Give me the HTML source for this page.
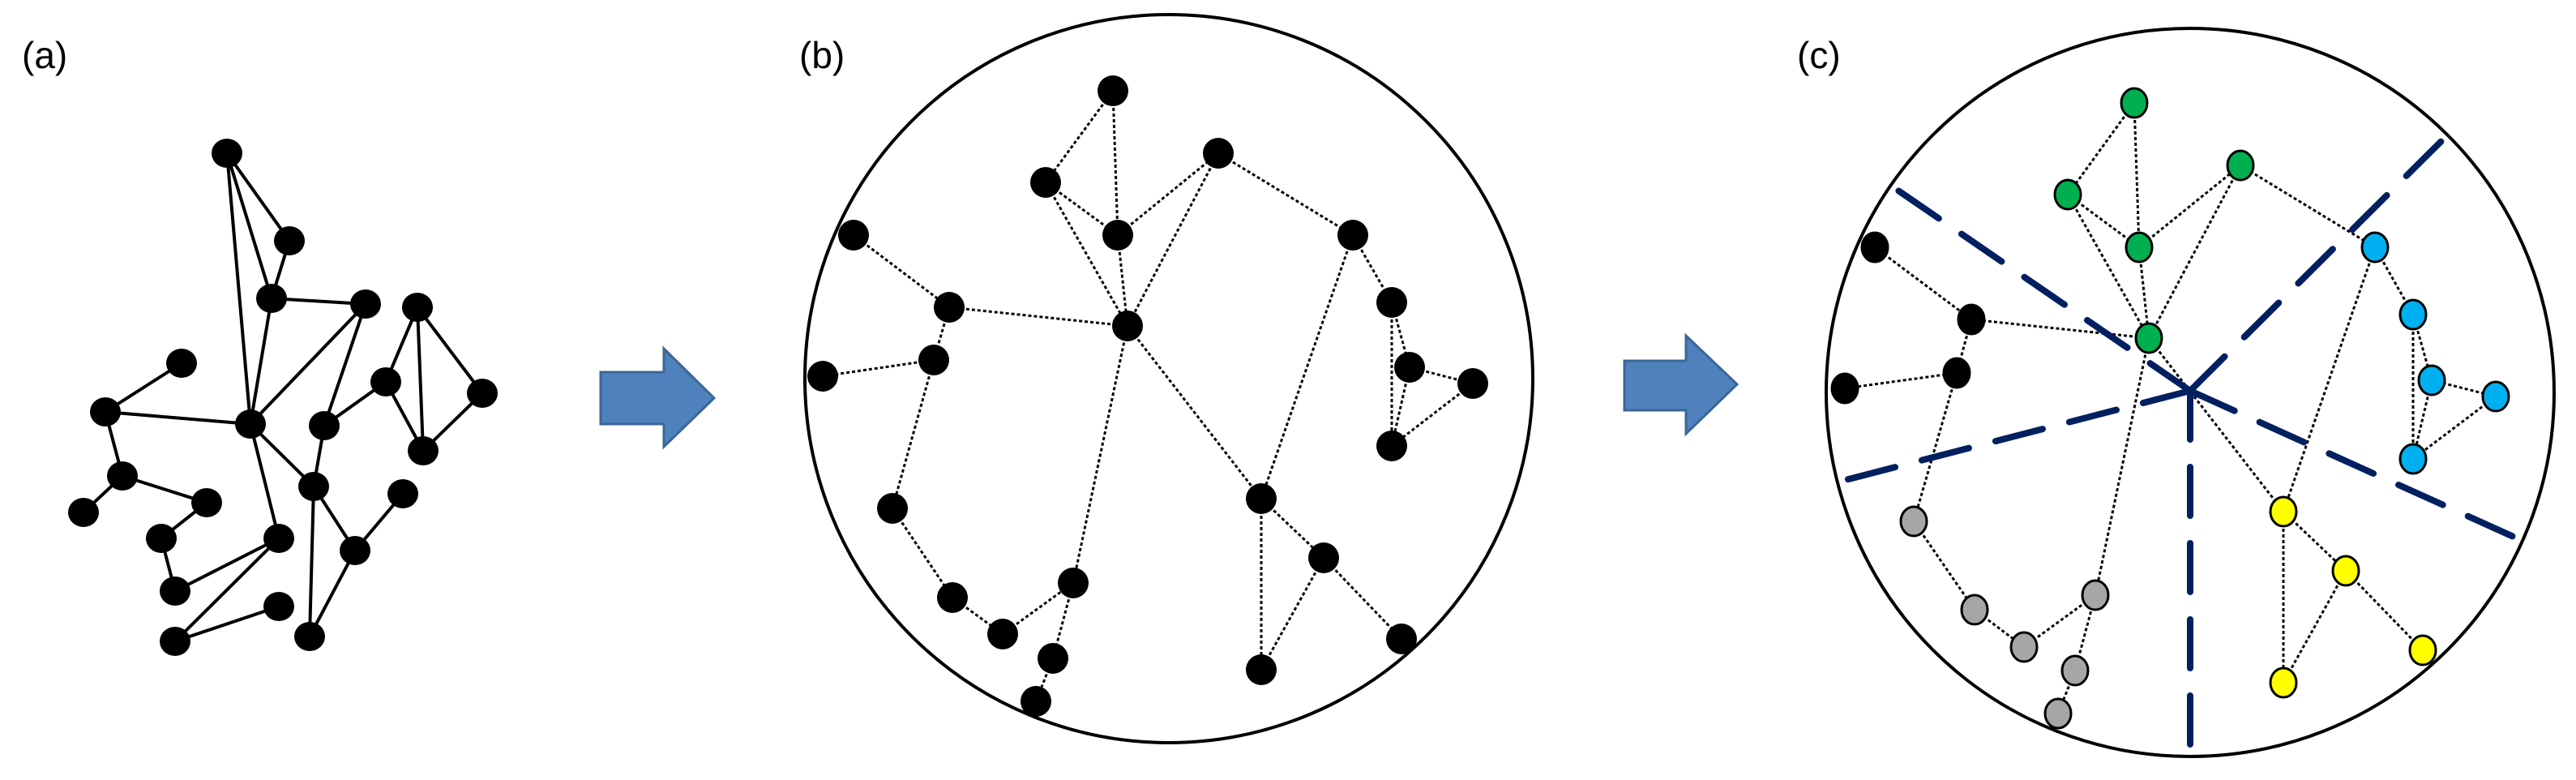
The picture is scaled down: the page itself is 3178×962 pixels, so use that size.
<!DOCTYPE html>
<html><head><meta charset="utf-8"><style>
html,body{margin:0;padding:0;background:#fff;}
svg{display:block;}
text{font-family:"Liberation Sans",sans-serif;font-size:46px;fill:#000;}
</style></head><body>
<svg width="3178" height="962" viewBox="0 0 3178 962" xmlns="http://www.w3.org/2000/svg">
<text x="27" y="84">(a)</text>
<text x="986" y="84">(b)</text>
<text x="2217" y="84">(c)</text>

<!-- Panel A -->
<g stroke="#000" stroke-width="4" fill="none">
<line x1="280" y1="189" x2="357" y2="297"/>
<line x1="280" y1="189" x2="335" y2="368"/>
<line x1="280" y1="189" x2="309" y2="523"/>
<line x1="357" y1="297" x2="335" y2="368"/>
<line x1="335" y1="368" x2="451" y2="375"/>
<line x1="335" y1="368" x2="309" y2="523"/>
<line x1="451" y1="375" x2="309" y2="523"/>
<line x1="451" y1="375" x2="400" y2="525"/>
<line x1="515" y1="379" x2="476" y2="471"/>
<line x1="515" y1="379" x2="522" y2="556"/>
<line x1="515" y1="379" x2="595" y2="485"/>
<line x1="595" y1="485" x2="522" y2="556"/>
<line x1="476" y1="471" x2="400" y2="525"/>
<line x1="476" y1="471" x2="522" y2="556"/>
<line x1="224" y1="448" x2="130" y2="508"/>
<line x1="130" y1="508" x2="309" y2="523"/>
<line x1="130" y1="508" x2="151" y2="587"/>
<line x1="151" y1="587" x2="103" y2="632"/>
<line x1="151" y1="587" x2="255" y2="620"/>
<line x1="255" y1="620" x2="199" y2="664"/>
<line x1="199" y1="664" x2="216" y2="729"/>
<line x1="216" y1="729" x2="344" y2="664"/>
<line x1="344" y1="664" x2="216" y2="791"/>
<line x1="216" y1="791" x2="344" y2="748"/>
<line x1="309" y1="523" x2="387" y2="600"/>
<line x1="309" y1="523" x2="344" y2="664"/>
<line x1="400" y1="525" x2="387" y2="600"/>
<line x1="387" y1="600" x2="438" y2="679"/>
<line x1="387" y1="600" x2="382" y2="785"/>
<line x1="438" y1="679" x2="497" y2="609"/>
<line x1="438" y1="679" x2="382" y2="785"/>
</g>
<g fill="#000">
<ellipse cx="280" cy="189" rx="19" ry="18"/><ellipse cx="357" cy="297" rx="19" ry="18"/>
<ellipse cx="335" cy="368" rx="19" ry="18"/><ellipse cx="451" cy="375" rx="19" ry="18"/>
<ellipse cx="515" cy="379" rx="19" ry="18"/><ellipse cx="224" cy="448" rx="19" ry="18"/>
<ellipse cx="476" cy="471" rx="19" ry="18"/><ellipse cx="595" cy="485" rx="19" ry="18"/>
<ellipse cx="130" cy="508" rx="19" ry="18"/><ellipse cx="309" cy="523" rx="19" ry="18"/>
<ellipse cx="400" cy="525" rx="19" ry="18"/><ellipse cx="522" cy="556" rx="19" ry="18"/>
<ellipse cx="151" cy="587" rx="19" ry="18"/><ellipse cx="387" cy="600" rx="19" ry="18"/>
<ellipse cx="255" cy="620" rx="19" ry="18"/><ellipse cx="497" cy="609" rx="19" ry="18"/>
<ellipse cx="103" cy="632" rx="19" ry="18"/><ellipse cx="199" cy="664" rx="19" ry="18"/>
<ellipse cx="344" cy="664" rx="19" ry="18"/><ellipse cx="438" cy="679" rx="19" ry="18"/>
<ellipse cx="216" cy="729" rx="19" ry="18"/><ellipse cx="344" cy="748" rx="19" ry="18"/>
<ellipse cx="382" cy="785" rx="19" ry="18"/><ellipse cx="216" cy="791" rx="19" ry="18"/>
</g>

<!-- Arrows -->
<polygon points="741,459 819,459 819,430 881,491 819,551 819,523 741,523" fill="#4f81bd" stroke="#3b6696" stroke-width="3"/>
<polygon points="2004,445 2080,445 2080,414 2143,474 2080,535 2080,506 2004,506" fill="#4f81bd" stroke="#3b6696" stroke-width="3"/>

<!-- Panel B -->
<ellipse cx="1442" cy="467" rx="449" ry="449" fill="none" stroke="#000" stroke-width="4"/>
<g stroke="#000" stroke-width="3" stroke-dasharray="4 3" fill="none">
<line x1="1373" y1="112" x2="1290" y2="225"/>
<line x1="1373" y1="112" x2="1379" y2="290"/>
<line x1="1290" y1="225" x2="1379" y2="290"/>
<line x1="1290" y1="225" x2="1391" y2="402"/>
<line x1="1379" y1="290" x2="1391" y2="402"/>
<line x1="1379" y1="290" x2="1503" y2="189"/>
<line x1="1503" y1="189" x2="1391" y2="402"/>
<line x1="1503" y1="189" x2="1669" y2="290"/>
<line x1="1669" y1="290" x2="1717" y2="373"/>
<line x1="1669" y1="290" x2="1556" y2="615"/>
<line x1="1717" y1="373" x2="1739" y2="453"/>
<line x1="1717" y1="373" x2="1717" y2="550"/>
<line x1="1739" y1="453" x2="1817" y2="473"/>
<line x1="1739" y1="453" x2="1717" y2="550"/>
<line x1="1817" y1="473" x2="1717" y2="550"/>
<line x1="1053" y1="290" x2="1171" y2="379"/>
<line x1="1171" y1="379" x2="1391" y2="402"/>
<line x1="1171" y1="379" x2="1152" y2="444"/>
<line x1="1152" y1="444" x2="1015" y2="464"/>
<line x1="1152" y1="444" x2="1101" y2="627"/>
<line x1="1101" y1="627" x2="1175" y2="737"/>
<line x1="1175" y1="737" x2="1237" y2="782"/>
<line x1="1237" y1="782" x2="1324" y2="719"/>
<line x1="1324" y1="719" x2="1299" y2="812"/>
<line x1="1299" y1="812" x2="1278" y2="865"/>
<line x1="1391" y1="402" x2="1324" y2="719"/>
<line x1="1391" y1="402" x2="1556" y2="615"/>
<line x1="1556" y1="615" x2="1633" y2="688"/>
<line x1="1556" y1="615" x2="1556" y2="826"/>
<line x1="1633" y1="688" x2="1556" y2="826"/>
<line x1="1633" y1="688" x2="1729" y2="788"/>
</g>
<g fill="#000">
<circle cx="1373" cy="112" r="19"/><circle cx="1503" cy="189" r="19"/>
<circle cx="1290" cy="225" r="19"/><circle cx="1379" cy="290" r="19"/>
<circle cx="1669" cy="290" r="19"/><circle cx="1053" cy="290" r="19"/>
<circle cx="1717" cy="373" r="19"/><circle cx="1171" cy="379" r="19"/>
<circle cx="1391" cy="402" r="19"/><circle cx="1152" cy="444" r="19"/>
<circle cx="1739" cy="453" r="19"/><circle cx="1817" cy="473" r="19"/>
<circle cx="1015" cy="464" r="19"/><circle cx="1717" cy="550" r="19"/>
<circle cx="1556" cy="615" r="19"/><circle cx="1101" cy="627" r="19"/>
<circle cx="1633" cy="688" r="19"/><circle cx="1324" cy="719" r="19"/>
<circle cx="1175" cy="737" r="19"/><circle cx="1237" cy="782" r="19"/>
<circle cx="1729" cy="788" r="19"/><circle cx="1299" cy="812" r="19"/>
<circle cx="1556" cy="826" r="19"/><circle cx="1278" cy="865" r="19"/>
</g>

<!-- Panel C -->
<ellipse cx="2702" cy="484" rx="449" ry="449" fill="none" stroke="#000" stroke-width="4"/>
<g stroke="#000" stroke-width="3" stroke-dasharray="4 3" fill="none">
<line x1="2633" y1="127" x2="2551" y2="240"/>
<line x1="2633" y1="127" x2="2639" y2="305"/>
<line x1="2551" y1="240" x2="2639" y2="305"/>
<line x1="2551" y1="240" x2="2651" y2="417"/>
<line x1="2639" y1="305" x2="2651" y2="417"/>
<line x1="2639" y1="305" x2="2764" y2="204"/>
<line x1="2764" y1="204" x2="2651" y2="417"/>
<line x1="2764" y1="204" x2="2930" y2="305"/>
<line x1="2930" y1="305" x2="2977" y2="388"/>
<line x1="2930" y1="305" x2="2817" y2="631"/>
<line x1="2977" y1="388" x2="3000" y2="469"/>
<line x1="2977" y1="388" x2="2977" y2="566"/>
<line x1="3000" y1="469" x2="3079" y2="489"/>
<line x1="3000" y1="469" x2="2977" y2="566"/>
<line x1="3079" y1="489" x2="2977" y2="566"/>
<line x1="2313" y1="305" x2="2432" y2="394"/>
<line x1="2432" y1="394" x2="2651" y2="417"/>
<line x1="2432" y1="394" x2="2414" y2="460"/>
<line x1="2414" y1="460" x2="2276" y2="479"/>
<line x1="2414" y1="460" x2="2361" y2="643"/>
<line x1="2361" y1="643" x2="2436" y2="752"/>
<line x1="2436" y1="752" x2="2497" y2="798"/>
<line x1="2497" y1="798" x2="2585" y2="734"/>
<line x1="2585" y1="734" x2="2560" y2="827"/>
<line x1="2560" y1="827" x2="2539" y2="880"/>
<line x1="2651" y1="417" x2="2585" y2="734"/>
<line x1="2651" y1="417" x2="2817" y2="631"/>
<line x1="2817" y1="631" x2="2894" y2="704"/>
<line x1="2817" y1="631" x2="2817" y2="842"/>
<line x1="2894" y1="704" x2="2817" y2="842"/>
<line x1="2894" y1="704" x2="2989" y2="802"/>
</g>
<g stroke="#002060" stroke-width="8" stroke-linecap="round" stroke-dasharray="60 34" fill="none">
<line x1="2702" y1="482" x2="2333" y2="229"/>
<line x1="2702" y1="482" x2="3020" y2="166"/>
<line x1="2702" y1="482" x2="3112" y2="667"/>
<line x1="2702" y1="482" x2="2269" y2="594"/>
<line x1="2702" y1="482" x2="2702" y2="933"/>
</g>
<g stroke="#000" stroke-width="3">
<ellipse cx="2633" cy="127" rx="16" ry="18" fill="#00b050"/>
<ellipse cx="2764" cy="204" rx="16" ry="18" fill="#00b050"/>
<ellipse cx="2551" cy="240" rx="16" ry="18" fill="#00b050"/>
<ellipse cx="2639" cy="305" rx="16" ry="18" fill="#00b050"/>
<ellipse cx="2651" cy="417" rx="16" ry="18" fill="#00b050"/>
<ellipse cx="2930" cy="305" rx="16" ry="18" fill="#00b0f0"/>
<ellipse cx="2977" cy="388" rx="16" ry="18" fill="#00b0f0"/>
<ellipse cx="3000" cy="469" rx="16" ry="18" fill="#00b0f0"/>
<ellipse cx="3079" cy="489" rx="16" ry="18" fill="#00b0f0"/>
<ellipse cx="2977" cy="566" rx="16" ry="18" fill="#00b0f0"/>
<ellipse cx="2313" cy="305" rx="16" ry="18" fill="#000"/>
<ellipse cx="2432" cy="394" rx="16" ry="18" fill="#000"/>
<ellipse cx="2414" cy="460" rx="16" ry="18" fill="#000"/>
<ellipse cx="2276" cy="479" rx="16" ry="18" fill="#000"/>
<ellipse cx="2817" cy="631" rx="16" ry="18" fill="#ffff00"/>
<ellipse cx="2894" cy="704" rx="16" ry="18" fill="#ffff00"/>
<ellipse cx="2989" cy="802" rx="16" ry="18" fill="#ffff00"/>
<ellipse cx="2817" cy="842" rx="16" ry="18" fill="#ffff00"/>
<ellipse cx="2361" cy="643" rx="16" ry="18" fill="#a6a6a6"/>
<ellipse cx="2436" cy="752" rx="16" ry="18" fill="#a6a6a6"/>
<ellipse cx="2497" cy="798" rx="16" ry="18" fill="#a6a6a6"/>
<ellipse cx="2585" cy="734" rx="16" ry="18" fill="#a6a6a6"/>
<ellipse cx="2560" cy="827" rx="16" ry="18" fill="#a6a6a6"/>
<ellipse cx="2539" cy="880" rx="16" ry="18" fill="#a6a6a6"/>
</g>
</svg>
</body></html>
